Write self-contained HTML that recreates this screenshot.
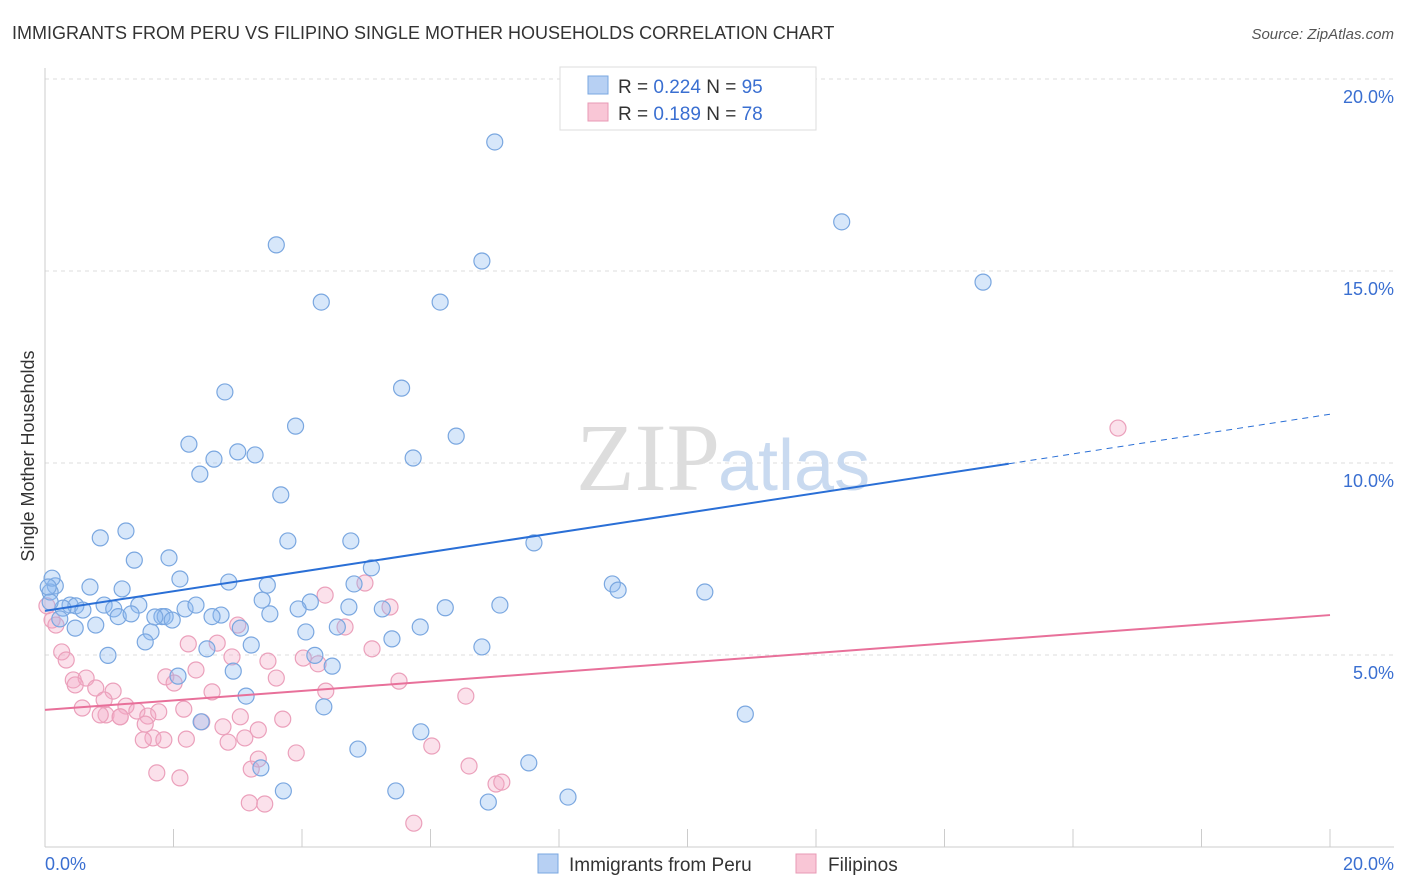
<!DOCTYPE html>
<html><head><meta charset="utf-8"><style>
body{margin:0;background:#fff;font-family:"Liberation Sans",sans-serif}
svg{display:block}
</style></head><body>
<svg width="1406" height="892" viewBox="0 0 1406 892">
<text x="12" y="39" font-size="18" fill="#333">IMMIGRANTS FROM PERU VS FILIPINO SINGLE MOTHER HOUSEHOLDS CORRELATION CHART</text>
<text x="1394" y="39" font-size="15" fill="#555" font-style="italic" text-anchor="end">Source: ZipAtlas.com</text>
<g id="grid"></g>
<text x="720" y="490" font-size="96" font-family="Liberation Serif,serif" fill="#ddd" text-anchor="end">ZIP</text>
<text x="718" y="490" font-size="72" fill="#c9daf0">atlas</text>
<line x1="45" y1="68" x2="45" y2="847" stroke="#ccc"/>
<line x1="45" y1="847" x2="1394" y2="847" stroke="#ccc"/>
<g id="ticks"></g>
<g id="ylabels"></g>
<text x="45" y="870" font-size="18" fill="#3a6fd1">0.0%</text>
<text x="1394" y="870" font-size="18" fill="#3a6fd1" text-anchor="end">20.0%</text>
<text transform="translate(34,456) rotate(-90)" font-size="18" fill="#333" text-anchor="middle">Single Mother Households</text>
<g id="pink"></g>
<g id="blue"></g>
<g id="lines"></g>
<g>
<rect x="560" y="67" width="256" height="63" fill="#fff" stroke="#ddd"/>
<rect x="588" y="76" width="20" height="18" fill="#b7d0f3" stroke="#7aa7e0"/>
<rect x="588" y="103" width="20" height="18" fill="#f9c6d6" stroke="#e89ab5"/>
<text x="618" y="93" font-size="19" fill="#333">R = <tspan fill="#3a6fd1">0.224</tspan>   N = <tspan fill="#3a6fd1">95</tspan></text>
<text x="618" y="120" font-size="19" fill="#333">R =  <tspan fill="#3a6fd1">0.189</tspan>   N = <tspan fill="#3a6fd1">78</tspan></text>
</g>
<g>
<rect x="538" y="854" width="20" height="19" fill="#b7d0f3" stroke="#7aa7e0"/>
<text x="569" y="871" font-size="19" fill="#333">Immigrants from Peru</text>
<rect x="796" y="854" width="20" height="19" fill="#f9c6d6" stroke="#e89ab5"/>
<text x="828" y="871" font-size="19" fill="#333">Filipinos</text>
</g>
</svg>
<script>
const yTicks=[5,10,15,20];
const xTicks=[0,2,4,6,8,10,12,14,16,18,20];
const blueX=[7.0,12.4,14.6,3.6,6.8,4.3,6.15,2.8,5.55,3.9,6.4,2.24,2.63,3.0,3.27,5.73,2.41,3.67,1.26,0.86,3.78,4.76,7.61,1.39,1.93,5.08,2.86,2.1,3.46,4.81,8.83,8.92,10.27,1.82,1.87,2.74,3.5,0.7,1.2,4.13,4.73,7.08,3.94,0.16,0.39,3.38,5.25,6.23,0.48,0.92,1.07,1.46,2.18,2.35,0.28,0.59,1.14,1.34,1.71,1.98,2.6,0.79,0.47,0.23,3.04,4.06,4.55,5.84,1.65,1.56,3.21,2.52,5.4,6.8,0.98,4.2,4.47,2.93,2.07,3.13,4.34,10.9,2.43,5.85,4.87,3.36,7.53,3.71,5.46,8.14,6.9,0.08,0.08,0.11,0.05];
const blueY=[18.36,16.28,14.71,15.68,15.26,14.19,14.19,11.85,11.95,10.96,10.7,10.49,10.1,10.29,10.21,10.13,9.71,9.17,8.23,8.05,7.97,7.97,7.92,7.47,7.53,7.27,6.9,6.98,6.82,6.85,6.85,6.69,6.64,6.0,6.0,6.04,6.07,6.77,6.72,6.38,6.25,6.3,6.2,6.8,6.3,6.43,6.2,6.23,6.28,6.3,6.2,6.3,6.2,6.3,6.22,6.17,6.0,6.07,5.99,5.91,6.0,5.78,5.7,5.94,5.7,5.6,5.73,5.73,5.6,5.34,5.26,5.16,5.42,5.21,4.99,4.99,4.71,4.58,4.45,3.93,3.65,3.46,3.26,3.0,2.55,2.06,2.19,1.46,1.46,1.3,1.17,6.64,6.38,7.0,6.77];
const pinkX=[16.7,4.98,4.36,5.37,4.67,3.0,2.68,2.23,0.26,0.33,5.09,0.44,2.91,3.47,4.02,4.25,1.88,0.64,2.35,3.6,5.51,0.47,2.01,0.79,1.06,4.37,6.55,2.6,0.11,0.17,0.03,0.92,1.26,0.58,0.95,1.17,1.43,1.6,1.77,2.16,1.17,0.86,1.56,3.04,3.7,2.44,3.32,2.77,1.68,1.85,1.53,2.2,2.85,3.11,3.91,6.02,3.32,6.6,3.21,1.74,2.1,7.02,7.11,3.18,3.42,5.74];
const pinkY=[10.91,6.875,6.56,6.25,5.73,5.78,5.31,5.29,5.08,4.87,5.16,4.35,4.95,4.84,4.92,4.77,4.43,4.4,4.61,4.4,4.32,4.22,4.27,4.14,4.06,4.06,3.93,4.04,5.91,5.78,6.28,3.83,3.67,3.62,3.44,3.39,3.54,3.41,3.52,3.59,3.39,3.44,3.2,3.39,3.33,3.26,3.05,3.13,2.84,2.79,2.79,2.81,2.73,2.84,2.45,2.63,2.29,2.11,2.03,1.93,1.8,1.64,1.69,1.15,1.12,0.62];
const blueTrend=[[0,6.15],[15,9.98],[20,11.27]];
const pinkTrend=[[0,3.57],[20,6.04]];
const NS='http://www.w3.org/2000/svg';
const X=v=>45+v*64.25, Y=v=>847-v*38.4;
function mk(t,p,a){const e=document.createElementNS(NS,t);for(const k in a)e.setAttribute(k,a[k]);document.getElementById(p).appendChild(e);return e;}
yTicks.forEach(t=>{
 const l=mk('line','grid',{x1:45,x2:1394,y1:Y(t),y2:Y(t),stroke:'#ddd','stroke-dasharray':'4,4'});
 
 
 const s=mk('text','ylabels',{x:1394,y:Y(t)+24,'font-size':18,fill:'#3a6fd1','text-anchor':'end'});
 s.textContent=t.toFixed(1)+'%';
 
 
});
xTicks.forEach(t=>{
 const l=mk('line','ticks',{x1:X(t),x2:X(t),y1:829,y2:847,stroke:'#ccc'});
 
 
});
pinkX.forEach((x,i)=>{
 const c=mk('circle','pink',{cx:X(x),cy:Y(pinkY[i]),r:8,fill:'rgba(244,170,198,0.35)',stroke:'#eba0bb','stroke-width':1.2});
 
 
});
blueX.forEach((x,i)=>{
 const c=mk('circle','blue',{cx:X(x),cy:Y(blueY[i]),r:8,fill:'rgba(140,185,240,0.35)',stroke:'#7aa7e0','stroke-width':1.2});
 
 
});
const b1=mk('line','lines',{x1:X(blueTrend[0][0]),y1:Y(blueTrend[0][1]),x2:X(blueTrend[1][0]),y2:Y(blueTrend[1][1]),stroke:'#2a6fd6','stroke-width':2});


const b2=mk('line','lines',{x1:X(blueTrend[1][0]),y1:Y(blueTrend[1][1]),x2:X(blueTrend[2][0]),y2:Y(blueTrend[2][1]),stroke:'#2a6fd6','stroke-width':1,'stroke-dasharray':'6,5'});


const p1=mk('line','lines',{x1:X(pinkTrend[0][0]),y1:Y(pinkTrend[0][1]),x2:X(pinkTrend[1][0]),y2:Y(pinkTrend[1][1]),stroke:'#e8709a','stroke-width':2});


</script>
</body></html>
